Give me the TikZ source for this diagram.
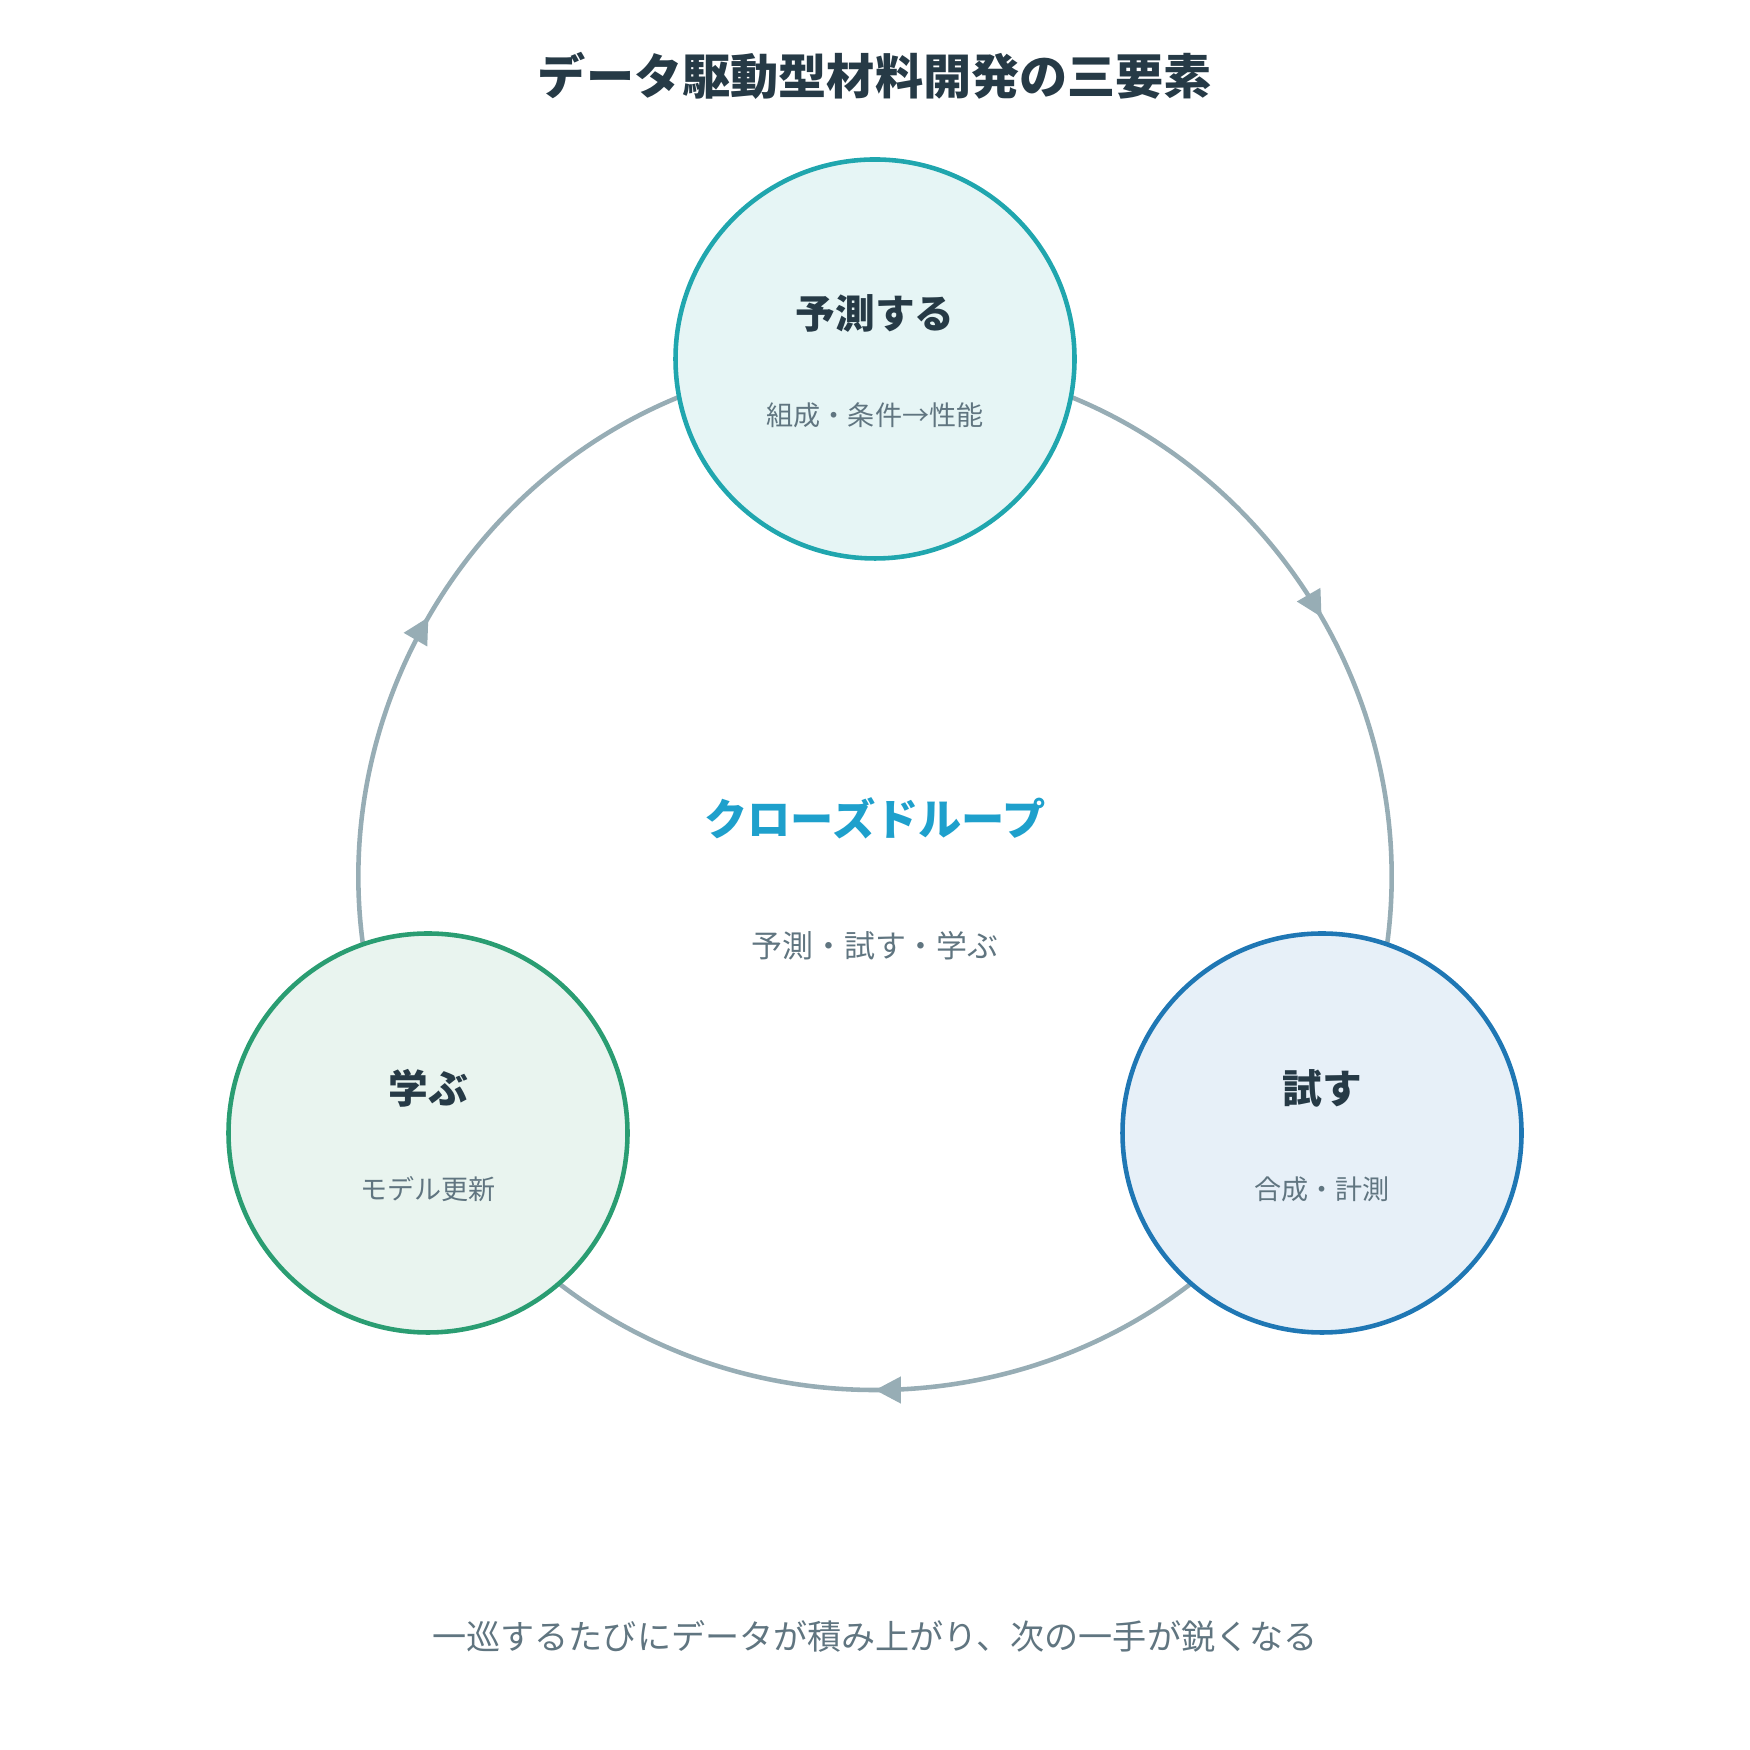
\documentclass[tikz,border=0pt]{standalone}
\usepackage{fontspec}
\setmainfont{Noto Sans CJK JP}
\usetikzlibrary{arrows.meta,backgrounds,decorations.markings,positioning}
\definecolor{inkdark}{RGB}{38,58,70}
\definecolor{inkgrey}{RGB}{96,117,128}
\definecolor{loopgrey}{RGB}{151,173,181}
\definecolor{loopblue}{RGB}{30,160,204}
\definecolor{predring}{RGB}{32,166,174}
\definecolor{predfill}{RGB}{230,245,245}
\definecolor{probring}{RGB}{31,119,180}
\definecolor{probfill}{RGB}{231,240,248}
\definecolor{aprering}{RGB}{42,157,114}
\definecolor{aprefill}{RGB}{233,244,239}
\tikzset{
  fase/.style={
    circle,
    line width=1.3pt,
    minimum size=3.99cm,
    inner sep=0pt
  },
  etiqueta/.style={
    font=\fontsize{11.3}{13}\selectfont\bfseries,
    text=inkdark
  },
  detalle/.style={
    font=\fontsize{7.7}{9}\selectfont,
    text=inkgrey
  },
  ciclo/.style={
    line width=1.3pt,
    draw=loopgrey,
    looseness=1.135,
    postaction={decorate},
    decoration={markings,
      mark=at position 0.5 with {\arrow[loopgrey]{Triangle[length=2.6mm,width=2.6mm]}}}
  }
}
\begin{document}
\begin{tikzpicture}
\useasboundingbox (0,0) rectangle (17.5,17.5);
\node[font=\fontsize{13.7}{16}\selectfont\bfseries,text=inkdark] (titulo) at (8.75,16.74) {データ駆動型材料開発の三要素};
% tres fases
\node[fase,draw=predring,fill=predfill] (pred) at (8.75,13.91) {};
\node[fase,draw=probring,fill=probfill] (prob) at (13.22,6.17) {};
\node[fase,draw=aprering,fill=aprefill] (apre) at (4.28,6.17) {};
\node[etiqueta] (pred-t) at ([yshift=4.5mm]pred.center) {予測する};
\node[detalle] (pred-d) at ([yshift=-5.6mm]pred.center) {組成・条件→性能};
\node[etiqueta] (prob-t) at ([yshift=4.5mm]prob.center) {試す};
\node[detalle] (prob-d) at ([yshift=-5.6mm]prob.center) {合成・計測};
\node[etiqueta] (apre-t) at ([yshift=4.5mm]apre.center) {学ぶ};
\node[detalle] (apre-d) at ([yshift=-5.6mm]apre.center) {モデル更新};
% el lazo
\begin{scope}[on background layer]
\draw[ciclo] (pred.center) to[out=0,in=60] (prob.center);
\draw[ciclo] (prob.center) to[out=-120,in=-60] (apre.center);
\draw[ciclo] (apre.center) to[out=120,in=180] (pred.center);
\end{scope}
\node[font=\fontsize{12.3}{14}\selectfont\bfseries,text=loopblue] (lazo) at (8.75,9.32) {クローズドループ};
\node[font=\fontsize{8.8}{10}\selectfont,text=inkgrey] (lazo-d) at (8.75,8.04) {予測・試す・学ぶ};
\node[font=\fontsize{9.7}{11}\selectfont,text=inkgrey] (pie) at (8.75,1.14) {一巡するたびにデータが積み上がり、次の一手が鋭くなる};
\end{tikzpicture}
\end{document}
